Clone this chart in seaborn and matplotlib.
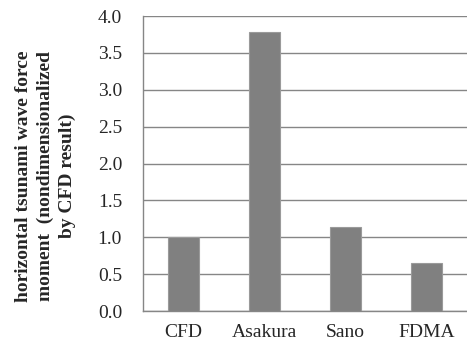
import matplotlib
matplotlib.use("Agg")
import matplotlib.pyplot as plt
import seaborn as sns
import pandas as pd

categories = ["CFD", "Asakura", "Sano", "FDMA"]
values = [1.0, 3.78, 1.14, 0.65]
yticks = [0.0, 0.5, 1.0, 1.5, 2.0, 2.5, 3.0, 3.5, 4.0]
ylabel = "horizontal tsunami wave force\nmoment  (nondimensionalized\nby CFD result)"

sns.set_style("white")
plt.rcParams['font.family'] = ['Liberation Serif', 'DejaVu Serif']

df = pd.DataFrame({"cat": categories, "val": values})

fig = plt.figure(figsize=(4.67, 3.43), dpi=100)
ax = fig.add_axes([0.306, 0.093, 0.694, 0.86])
sns.barplot(data=df, x="cat", y="val", color="#808080", width=0.39,
            saturation=1, edgecolor="#9a9a9a", linewidth=0.8, ax=ax, zorder=3)

ax.set_ylim(0, 4.0)
ax.set_xlim(-0.5, 3.5)
ax.set_yticks(yticks)
ax.set_yticklabels([f"{t:.1f}" for t in yticks], fontsize=14)
ax.yaxis.grid(True, color="#868686", linewidth=1.0, zorder=0)
ax.set_axisbelow(True)

ax.set_xticks([-0.5, 0.5, 1.5, 2.5, 3.5])
ax.set_xticklabels([])
ax.set_xticks(range(len(categories)), minor=True)
ax.set_xticklabels(categories, minor=True, fontsize=14)
ax.tick_params(axis="x", which="major", direction="out", length=5, color="#868686", width=1)
ax.tick_params(axis="x", which="minor", length=0, pad=9)
ax.tick_params(axis="y", direction="out", length=5, color="#868686", width=1, pad=10)

for s in ["top", "right"]:
    ax.spines[s].set_visible(False)
for s in ["left", "bottom"]:
    ax.spines[s].set_color("#868686")
    ax.spines[s].set_linewidth(1.0)

ax.set_xlabel("")
ax.set_ylabel(ylabel, fontsize=14, fontweight="bold", linespacing=1.33)
ax.yaxis.set_label_coords(-0.207, 0.458)

fig.savefig("out.png", dpi=100)
